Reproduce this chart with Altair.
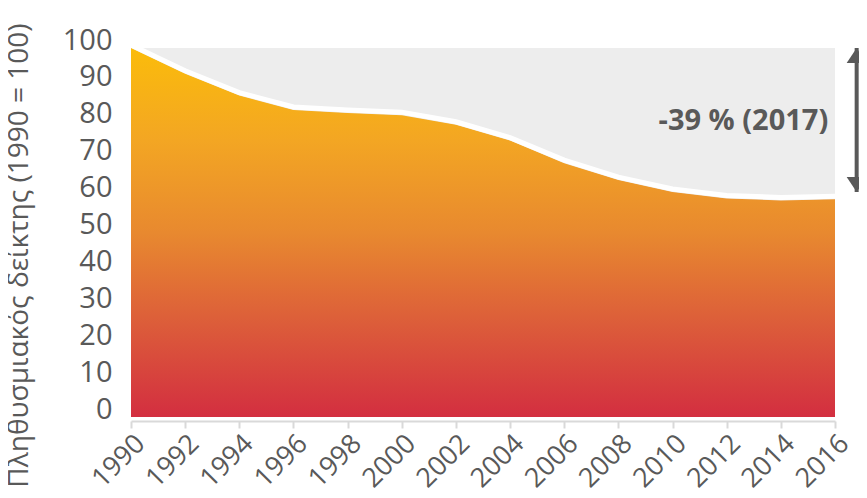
import altair as alt
import pandas as pd

years = [1990, 1992, 1994, 1996, 1998, 2000, 2002, 2004, 2006, 2008, 2010, 2012, 2014, 2016]
index_values = [100, 93.0, 87.1, 83.2, 82.4, 81.8, 79.2, 74.9, 68.8, 64.2, 61.0, 59.2, 58.7, 59.0]
background_level = [100] * len(years)

annotation_text = ["-39 % (2017)"]
annotation_x = [2015.75]
annotation_y = [80.2]

arrow_x = [2016.8]
arrow_top = [100]
arrow_bottom = [61]

y_title = "Πληθυσμιακός δείκτης (1990 = 100)"
x_ticks = list(range(1990, 2017, 2))
y_ticks = list(range(0, 101, 10))

TXT = "#595959"
FONT = "Open Sans"

df = pd.DataFrame({"year": years, "value": index_values, "bg": background_level})
ann = pd.DataFrame({"x": annotation_x, "y": annotation_y, "t": annotation_text})
arr = pd.DataFrame({"x": arrow_x, "top": arrow_top, "bottom": arrow_bottom})

xscale = alt.Scale(domain=[1990, 2016], nice=False, zero=False)
yscale = alt.Scale(domain=[0, 100], nice=False)

xaxis = alt.Axis(values=x_ticks, format="d", labelAngle=-45, title=None, labelOverlap=False,
                 labelFontSize=27, labelFont=FONT, labelColor=TXT)
yaxis = alt.Axis(values=y_ticks, title=y_title, labelOverlap=False,
                 labelFontSize=29, labelFont=FONT, labelColor=TXT)


def X(field):
    return alt.X(field, type="quantitative", scale=xscale, axis=xaxis)


def Y(field):
    return alt.Y(field, type="quantitative", scale=yscale, axis=yaxis)


base = alt.Chart(df)

bg = base.mark_area(color="#EDEDED").encode(x=X("year"), y=Y("bg"))

grad = alt.Gradient(
    gradient="linear",
    stops=[
        alt.GradientStop(color="#FBBC0B", offset=0),
        alt.GradientStop(color="#F3A623", offset=0.25),
        alt.GradientStop(color="#E8892F", offset=0.5),
        alt.GradientStop(color="#DC5C3A", offset=0.75),
        alt.GradientStop(color="#D32E40", offset=1),
    ],
    x1=1, x2=1, y1=0, y2=1,
)

area = base.mark_area(color=grad).encode(x=X("year"), y=Y("value"))

line = base.mark_line(color="white", strokeWidth=5, yOffset=-3).encode(x=X("year"), y=Y("value"))

text = alt.Chart(ann).mark_text(align="right", baseline="middle", fontSize=29, fontWeight="bold",
                                font=FONT, color=TXT).encode(x=X("x"), y=Y("y"), text="t:N")

rule = alt.Chart(arr).mark_rule(color=TXT, strokeWidth=4).encode(
    x=X("x"), y=Y("top"), y2="bottom:Q")

head_up = alt.Chart(arr).mark_point(shape="M0,-1L1,0.5L-1,0.5Z", size=400, filled=True,
                                    opacity=1, color=TXT, yOffset=10).encode(x=X("x"), y=Y("top"))
head_down = alt.Chart(arr).mark_point(shape="M0,1L1,-0.5L-1,-0.5Z", size=400, filled=True,
                                      opacity=1, color=TXT, yOffset=-10).encode(x=X("x"), y=Y("bottom"))

chart = alt.layer(bg, area, line, text, rule, head_up, head_down).properties(
    width=704, height=369,
    autosize=alt.AutoSizeParams(type="none"),
    padding={"left": 123, "top": 40, "right": 24, "bottom": 73},
).configure_view(stroke=None).configure_axisX(
    domainColor="#D9D9D9", domainWidth=2,
    tickColor="#D9D9D9", tickWidth=2, tickSize=7, offset=4, grid=False,
    labelFlush=False, labelPadding=2, labelBound=False,
).configure_axisY(
    domain=False, ticks=False, grid=False,
    labelPadding=19, labelOffset=-8, labelBound=False,
    titleFont=FONT, titleFontSize=28, titleFontWeight="normal", titleColor=TXT,
    titleX=-104, titleY=207, titleBaseline="alphabetic", titleAlign="center", titleAngle=270,
)

chart.save("out.html", embed_options={"renderer": "svg", "actions": False})
